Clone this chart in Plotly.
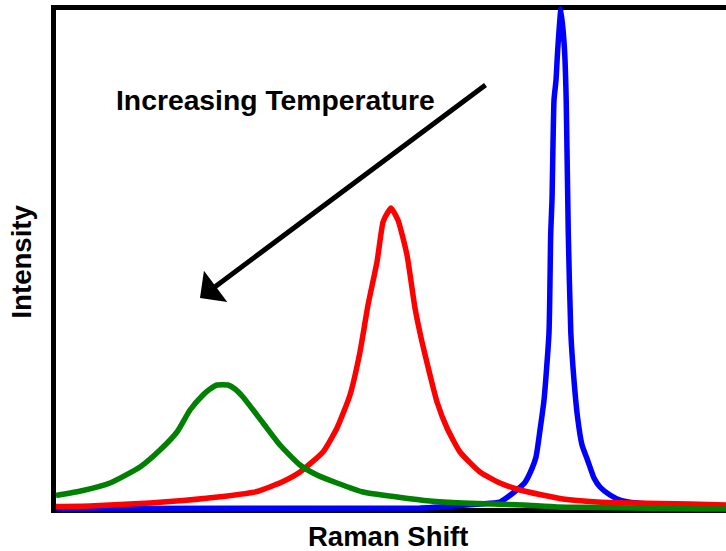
import plotly.graph_objects as go

# Raman spectra at three temperatures (arbitrary units: shift 0-1000, intensity 0-1)
blue_shift = [0, 543.3, 573.1, 632.8, 662.7, 682.1, 699.3, 707.5, 716.4, 722.4, 728.4,
              735.8, 738.4, 740.3, 743.3, 746.3, 748.8, 753.7, 759.0, 761.5, 764.6,
              768.4, 773.1, 778.4, 785.1, 793.3, 803.0, 811.9, 826.9, 841.8, 867.2,
              931.3, 1000]
blue_int = [0.001, 0.002, 0.004, 0.010, 0.014, 0.032, 0.052, 0.072, 0.104, 0.158, 0.218,
            0.352, 0.552, 0.618, 0.818, 0.858, 0.918, 1.000, 0.918, 0.818, 0.552,
            0.352, 0.258, 0.184, 0.128, 0.098, 0.062, 0.044, 0.028, 0.018, 0.012,
            0.008, 0.006]

red_shift = [0, 50.7, 140.3, 189.6, 249.3, 300.0, 338.8, 364.2, 398.5, 419.4, 438.8,
             453.7, 465.7, 479.1, 488.1, 495.5, 500.0, 510.4, 523.9, 535.8, 546.3,
             558.2, 568.7, 583.6, 603.0, 632.8, 662.7, 692.5, 756.7, 807.5, 856.7,
             946.3, 1000]
red_int = [0.005, 0.006, 0.012, 0.017, 0.025, 0.035, 0.055, 0.074, 0.114, 0.162, 0.228,
           0.314, 0.408, 0.494, 0.574, 0.594, 0.602, 0.578, 0.508, 0.402, 0.334,
           0.268, 0.214, 0.162, 0.114, 0.074, 0.052, 0.038, 0.020, 0.014, 0.012,
           0.010, 0.008]

green_shift = [0, 40.3, 80.6, 125.4, 155.2, 180.6, 200.0, 219.4, 229.9, 240.3, 256.7,
               267.2, 279.1, 309.0, 334.3, 364.2, 389.6, 419.4, 458.2, 509.0, 558.2,
               607.5, 652.2, 697.0, 747.8, 811.9, 956.7, 1000]
green_int = [0.027, 0.037, 0.052, 0.084, 0.118, 0.154, 0.198, 0.228, 0.240, 0.248, 0.248,
             0.240, 0.224, 0.172, 0.128, 0.088, 0.068, 0.052, 0.034, 0.024, 0.016,
             0.012, 0.010, 0.008, 0.004, 0.003, 0.000, 0.000]

series = [
    ("blue", blue_shift, blue_int, "#0000FF"),
    ("red", red_shift, red_int, "#FF0000"),
    ("green", green_shift, green_int, "#008000"),
]

X_RANGE = [-8.955, 1000]
Y_RANGE = [-0.01, 1.01]
FAMILY = "Liberation Sans, Arial, sans-serif"

fig = go.Figure()
for name, xs, ys, color in series:
    fig.add_trace(go.Scatter(x=xs, y=ys, mode="lines", name=name,
                             line=dict(color=color, width=5.5, shape="spline",
                                       smoothing=0.5),
                             hoverinfo="skip"))

# open frame: left, top and bottom edges
frame = dict(type="line", xref="x", yref="y", layer="below",
             line=dict(color="black", width=5))
fig.add_shape(x0=-3.73, x1=-3.73, y0=-0.008, y1=1.008, **frame)
fig.add_shape(x0=-7.46, x1=1000, y0=1.003, y1=1.003, **frame)
fig.add_shape(x0=-7.46, x1=1000, y0=-0.003, y1=-0.003, **frame)

fig.add_annotation(x=214.9, y=0.422, ax=643.3, ay=0.85, xref="x", yref="y",
                   axref="x", ayref="y", text="", showarrow=True,
                   arrowhead=1, arrowsize=1.3, arrowwidth=5, arrowcolor="black")
fig.add_annotation(x=0.3343, y=0.8118, xref="paper", yref="paper",
                   text="<b>Increasing Temperature</b>", showarrow=False,
                   xanchor="center", yanchor="middle",
                   font=dict(family=FAMILY, size=28.3, color="black"))
fig.add_annotation(x=0.5, y=-0.0422, xref="paper", yref="paper",
                   text="<b>Raman Shift</b>", showarrow=False,
                   xanchor="center", yanchor="middle", height=30,
                   font=dict(family=FAMILY, size=27.5, color="black"))
fig.add_annotation(x=-0.0414, y=0.495, xref="paper", yref="paper",
                   text="<b>Intensity</b>", showarrow=False, textangle=-90,
                   xanchor="center", yanchor="middle",
                   font=dict(family=FAMILY, size=27.6, color="black"))

axis_style = dict(showgrid=False, zeroline=False, showticklabels=False,
                  showline=False, ticks="", fixedrange=True)
fig.update_layout(
    width=726, height=551,
    margin=dict(l=50, r=0, t=4, b=37, pad=0),
    paper_bgcolor="white", plot_bgcolor="white",
    showlegend=False,
    xaxis=dict(range=X_RANGE, **axis_style),
    yaxis=dict(range=Y_RANGE, **axis_style),
)

fig.write_html("out.html")
